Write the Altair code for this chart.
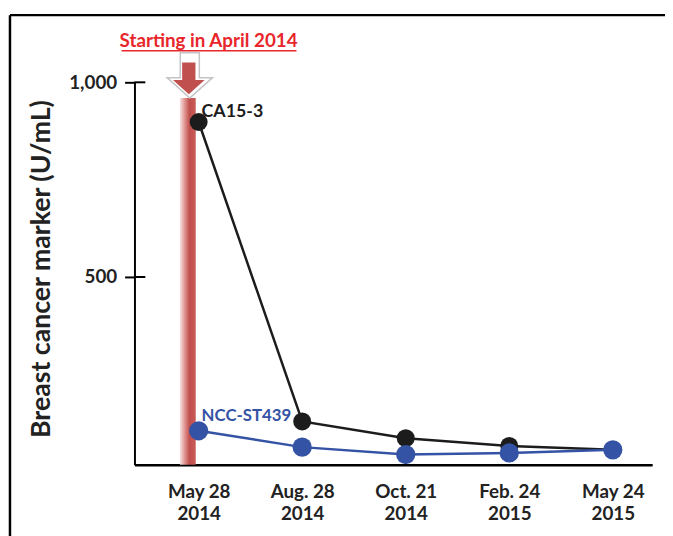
import altair as alt
import pandas as pd

# ---- data ----
dates = ["May 28", "Aug. 28", "Oct. 21", "Feb. 24", "May 24"]
years = ["2014", "2014", "2014", "2015", "2015"]
ca153 = [898, 129, 86, 66, 56]
ncc_st439 = [105, 63, 44, 48, 56]
series_names = ["CA15-3", "NCC-ST439"]
y_ticks = [500, 1000]
note_text = "Starting in April 2014"
y_title = "Breast cancer marker (U/mL)"

cats = [f"{d}|{y}" for d, y in zip(dates, years)]
df_ca = pd.DataFrame({"date": cats, "value": ca153})
df_ncc = pd.DataFrame({"date": cats, "value": ncc_st439})
df_lab = pd.DataFrame({"date": [cats[0], cats[0]], "value": [ca153[0], ncc_st439[0]],
                       "name": series_names})
df_ticks = pd.DataFrame({"v": y_ticks})
one = pd.DataFrame({"a": [0]})

FONT = "Lato"
W, H = 524, 387

x_enc = alt.X("date:N", sort=cats,
              scale=alt.Scale(type="point", padding=0.5, align=0.62),
              axis=alt.Axis(title=None, labelExpr="split(datum.value, '|')",
                            ticks=False, domainColor="black", domainWidth=2.5,
                            labelFont=FONT, labelFontWeight="bold", labelFontSize=19,
                            labelColor="#222222", labelPadding=18, labelLineHeight=23,
                            labelAngle=0, grid=False))
y_scale = alt.Scale(domain=[18, 1000], nice=False, zero=False)
y_enc = alt.Y("value:Q", scale=y_scale,
              axis=alt.Axis(values=y_ticks, format=",.0f", title=y_title,
                            tickSize=10, tickWidth=2, tickColor="black",
                            domainColor="black", domainWidth=2,
                            labelFont=FONT, labelFontWeight="bold", labelFontSize=19,
                            labelColor="#222222", labelPadding=8, grid=False,
                            titleFont=FONT, titleFontWeight="bold", titleFontSize=27,
                            titleColor="#222222", titleX=-94, titleY=H / 2 - 5,
                            titleAngle=-90, titleBaseline="middle", titleAlign="center"))

grad = alt.Gradient(gradient="linear",
                    stops=[alt.GradientStop(color="#f7e2e2", offset=0),
                           alt.GradientStop(color="#dc8a88", offset=0.35),
                           alt.GradientStop(color="#c0504d", offset=0.6),
                           alt.GradientStop(color="#c85a57", offset=1)],
                    x1=0, x2=1, y1=0, y2=0)

bar = alt.Chart(one).mark_rect(fill=grad).encode(
    x=alt.value(46), x2=alt.value(62), y=alt.value(16), y2=alt.value(H))

arrow_path = "M-0.42,-1 L0.42,-1 L0.42,0.1 L1,0.1 L0,1 L-1,0.1 L-0.42,0.1 Z"
arrow_out = alt.Chart(one).mark_point(shape=arrow_path, filled=True, fill="white",
                                      stroke="#c4c4c4", strokeWidth=1.5, opacity=1,
                                      size=2116).encode(
    x=alt.value(56), y=alt.value(-7))
arrow_in = alt.Chart(one).mark_point(shape=arrow_path, filled=True, fill="#c0504d",
                                     opacity=1, size=1024).encode(
    x=alt.value(55), y=alt.value(-4))

note = alt.Chart(one).mark_text(font=FONT, fontWeight="bold", fontSize=19,
                                color="#e8262b", baseline="middle", align="center").encode(
    x=alt.value(75), y=alt.value(-42), text=alt.value(note_text))
underline = alt.Chart(one).mark_rule(color="#e8262b", strokeWidth=1.5).encode(
    x=alt.value(-13), x2=alt.value(164), y=alt.value(-32))

inner_ticks = alt.Chart(df_ticks).mark_rule(color="black", strokeWidth=2).encode(
    x=alt.value(0), x2=alt.value(11), y=alt.Y("v:Q", scale=y_scale))

base_ca = alt.Chart(df_ca).encode(x=x_enc, y=y_enc)
line_ca = base_ca.mark_line(color="#1c1c1c", strokeWidth=2.5)
pts_ca = base_ca.mark_circle(color="#1c1c1c", size=330, opacity=1)

base_ncc = alt.Chart(df_ncc).encode(x=x_enc, y=y_enc)
line_ncc = base_ncc.mark_line(color="#3553a5", strokeWidth=2.5)
pts_ncc = base_ncc.mark_circle(color="#3553a5", size=380, opacity=1)

lab_ca = alt.Chart(df_lab.iloc[[0]]).mark_text(font=FONT, fontWeight="bold", fontSize=18,
                                               color="#1c1c1c", align="left",
                                               baseline="middle", dx=3, dy=-10).encode(
    x=x_enc, y=y_enc, text="name:N")
lab_ncc = alt.Chart(df_lab.iloc[[1]]).mark_text(font=FONT, fontWeight="bold", fontSize=17,
                                                color="#3553a5", align="left",
                                                baseline="middle", dx=3, dy=-15).encode(
    x=x_enc, y=y_enc, text="name:N")

frame_top = alt.Chart(one).mark_rule(color="black", strokeWidth=2.5).encode(
    x=alt.value(-126), x2=alt.value(540), y=alt.value(-68))
frame_left = alt.Chart(one).mark_rule(color="black", strokeWidth=2.5).encode(
    x=alt.value(-126), y=alt.value(-68), y2=alt.value(460))

chart = alt.layer(
    frame_top, frame_left, bar, arrow_out, arrow_in, note, underline,
    line_ca, pts_ca, line_ncc, pts_ncc, inner_ticks, lab_ca, lab_ncc
).properties(
    width=W, height=H,
    padding={"left": 128, "top": 72, "right": 13, "bottom": 69},
    autosize=alt.AutoSizeParams(type="none"),
    background="white"
).configure_view(stroke=None)

chart.save("out.html", embed_options={"renderer": "svg", "actions": False})
